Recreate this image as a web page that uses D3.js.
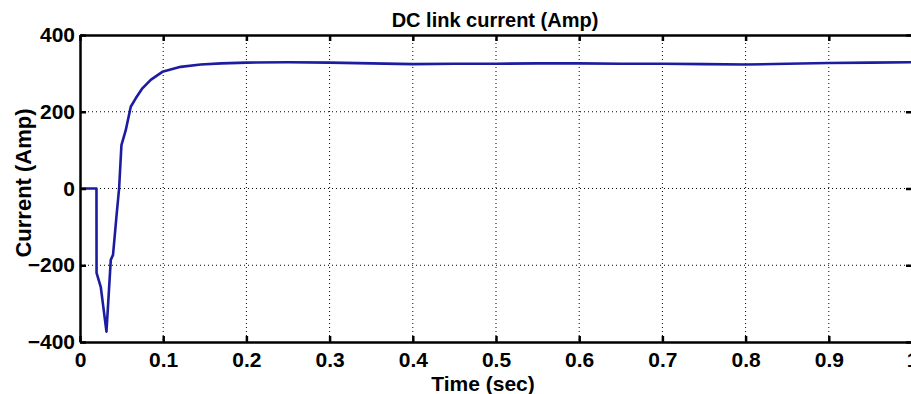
<!DOCTYPE html>
<html>
<head>
<meta charset="utf-8">
<script src="https://cdn.jsdelivr.net/npm/d3@7"></script>
<style>
  body { margin: 0; background: #fff; }
  svg text { font-family: "Liberation Sans", Arial, sans-serif; font-weight: bold; fill: #000; }
</style>
</head>
<body>
<div id="chart-container"></div>
<script>
// data
const timeSec = [0, 0.0198, 0.0199, 0.025, 0.0318, 0.037, 0.0397, 0.0438, 0.047, 0.0498, 0.055,
  0.061, 0.067, 0.075, 0.085, 0.099, 0.121, 0.145, 0.17, 0.2, 0.25, 0.3, 0.35, 0.4, 0.45,
  0.5, 0.55, 0.6, 0.65, 0.7, 0.75, 0.8, 0.85, 0.9, 0.95, 1.0];
const currentAmp = [0, 0, -220, -257, -373, -186, -173, -73, 0, 113, 152,
  213, 235, 261, 283, 304, 317, 323, 326, 328, 329, 328, 326, 324, 325,
  325, 326, 326, 325, 325, 324, 323, 325, 327, 328, 329];
const xTicks = [0, 0.1, 0.2, 0.3, 0.4, 0.5, 0.6, 0.7, 0.8, 0.9, 1];
const yTicks = [-400, -200, 0, 200, 400];

const data = timeSec.map((t, i) => ({ t: t, v: currentAmp[i] }));

// dimensions
const W = 911, H = 394;
const margin = { top: 35, left: 80 };
const plotW = 832, plotH = 307;

const xScale = d3.scaleLinear().domain([0, 1]).range([0, plotW]);
const yScale = d3.scaleLinear().domain([-400, 400]).range([plotH, 0]);

const svg = d3.select("#chart-container").append("svg")
  .attr("width", W).attr("height", H);

svg.append("defs").append("clipPath").attr("id", "clip")
  .append("rect").attr("width", plotW).attr("height", plotH);

const g = svg.append("g").attr("transform", `translate(${margin.left}, ${margin.top})`);

// dotted grid
g.selectAll(".xgrid").data(xTicks.slice(1, -1)).join("line")
  .attr("x1", d => xScale(d)).attr("x2", d => xScale(d))
  .attr("y1", 0).attr("y2", plotH)
  .attr("stroke", "#000").attr("stroke-width", 1).attr("stroke-dasharray", "1,3");
g.selectAll(".ygrid").data(yTicks.slice(1, -1)).join("line")
  .attr("x1", 0).attr("x2", plotW)
  .attr("y1", d => yScale(d)).attr("y2", d => yScale(d))
  .attr("stroke", "#000").attr("stroke-width", 1).attr("stroke-dasharray", "1,3");

// line
const line = d3.line().x(d => xScale(d.t)).y(d => yScale(d.v));
g.append("path").datum(data)
  .attr("clip-path", "url(#clip)")
  .attr("fill", "none").attr("stroke", "#1c1ca0").attr("stroke-width", 2.6)
  .attr("stroke-linejoin", "round")
  .attr("d", line);

// axes (ticks pointing inward)
const axisStyle = (sel) => {
  sel.selectAll(".domain").attr("stroke", "#000").attr("stroke-width", 2.5);
  sel.selectAll(".tick line").attr("stroke", "#000").attr("stroke-width", 2.5);
  sel.selectAll(".tick text").style("font-size", "21px");
};

g.append("g").attr("transform", `translate(0, ${plotH})`)
  .call(d3.axisBottom(xScale).tickValues(xTicks).tickFormat(d3.format("~g"))
    .tickSizeInner(-6).tickSizeOuter(0).tickPadding(10))
  .call(axisStyle);
g.append("g")
  .call(d3.axisTop(xScale).tickValues(xTicks).tickFormat("")
    .tickSizeInner(-6).tickSizeOuter(0))
  .call(axisStyle);
g.append("g")
  .call(d3.axisLeft(yScale).tickValues(yTicks)
    .tickSizeInner(-6).tickSizeOuter(0).tickPadding(5))
  .call(axisStyle);
g.append("g").attr("transform", `translate(${plotW}, 0)`)
  .call(d3.axisRight(yScale).tickValues(yTicks).tickFormat("")
    .tickSizeInner(-6).tickSizeOuter(0))
  .call(axisStyle);

// title
svg.append("text")
  .attr("x", 495).attr("y", 27)
  .attr("text-anchor", "middle")
  .style("font-size", "20px")
  .text("DC link current (Amp)");

// x label
svg.append("text")
  .attr("x", 483).attr("y", 391)
  .attr("text-anchor", "middle")
  .style("font-size", "21px")
  .text("Time (sec)");

// y label
svg.append("text")
  .attr("transform", "rotate(-90)")
  .attr("x", -183).attr("y", 31)
  .attr("text-anchor", "middle")
  .style("font-size", "22px")
  .text("Current (Amp)");
</script>
</body>
</html>
